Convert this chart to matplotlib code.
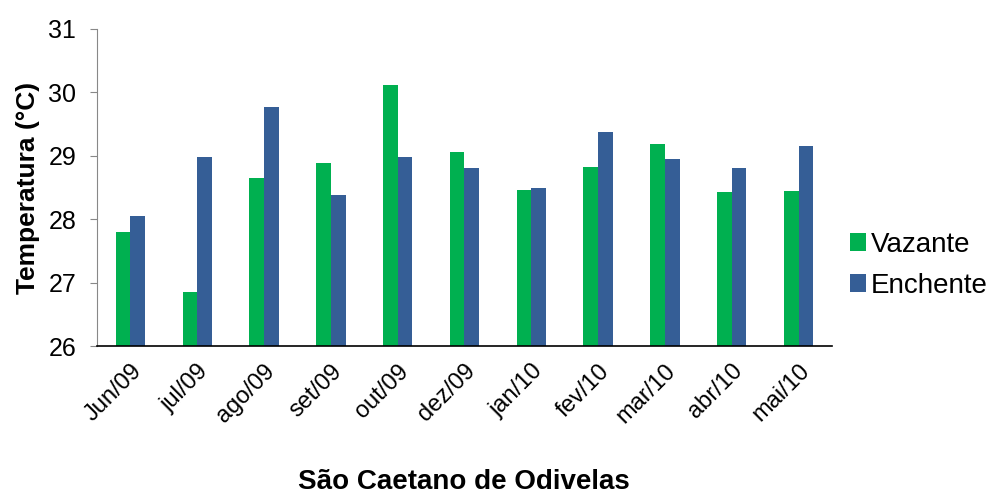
import matplotlib.pyplot as plt
import numpy as np

plt.rcParams['font.family'] = ['Liberation Sans', 'DejaVu Sans']

meses = ["Jun/09", "jul/09", "ago/09", "set/09", "out/09", "dez/09",
         "jan/10", "fev/10", "mar/10", "abr/10", "mai/10"]
vazante = [27.80, 26.85, 28.65, 28.89, 30.12, 29.06, 28.46, 28.83, 29.18, 28.43, 28.45]
enchente = [28.05, 28.98, 29.77, 28.38, 28.98, 28.80, 28.49, 29.38, 28.95, 28.80, 29.15]

fig = plt.figure(figsize=(10.04, 4.98), dpi=100)
ax = fig.add_axes([0.0966, 0.305, 0.732, 0.637])

x = np.arange(len(meses))
w = 0.22
ax.bar(x - w / 2, vazante, w, color="#00b050", label="Vazante")
ax.bar(x + w / 2, enchente, w, color="#355e96", label="Enchente")

ax.set_ylim(26, 31)
ax.set_xlim(-0.5, len(meses) - 0.5)
ax.set_yticks([26, 27, 28, 29, 30, 31])
ax.set_xticks(x)
ax.set_xticklabels(meses, rotation=45, ha="right", rotation_mode="anchor", fontsize=17)
ax.tick_params(axis="y", labelsize=18, length=5, color="#888888", pad=10)
ax.tick_params(axis="x", length=0, pad=10)

for s in ["top", "right"]:
    ax.spines[s].set_visible(False)
ax.spines["left"].set_color("#888888")
ax.spines["bottom"].set_color("black")
ax.spines["bottom"].set_linewidth(1.2)

ax.set_ylabel("Temperatura (°C)", fontsize=19, fontweight="bold", labelpad=6)
fig.text(0.462, 0.032, "São Caetano de Odivelas", ha="center", va="center",
         fontsize=20, fontweight="bold")

ax.legend(loc="center left", bbox_to_anchor=(0.99, 0.255), frameon=False,
          fontsize=20, handlelength=0.6, handleheight=0.6, handletextpad=0.15,
          labelspacing=0.55)

plt.savefig("out.png", dpi=100)
